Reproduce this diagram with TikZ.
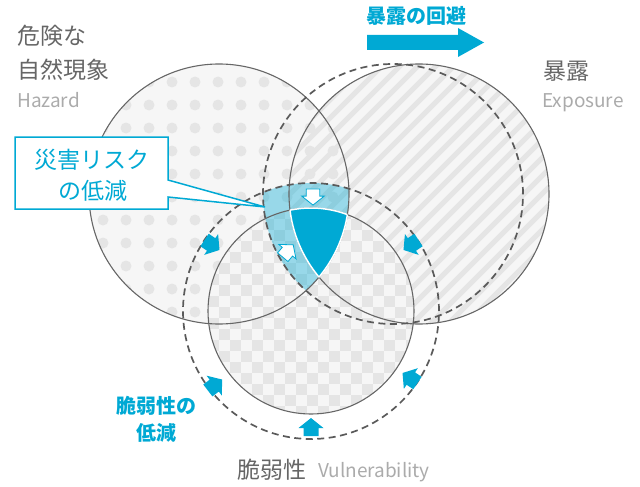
\documentclass[tikz,border=0pt]{standalone}
\usepackage{fontspec}
\setmainfont{Noto Sans CJK JP}
\definecolor{cy}{HTML}{00A9D4}
\definecolor{bgc}{HTML}{F6F6F6}
\definecolor{pat}{HTML}{E5E5E5}
\definecolor{ln}{HTML}{666666}
\definecolor{dsh}{HTML}{5A5A5A}
\definecolor{lbl}{HTML}{666666}
\definecolor{lbllight}{HTML}{ABABAB}
\tikzset{
  outline/.style={draw=ln, line width=1.1pt},
  dashring/.style={draw=dsh, line width=1.7pt, dash pattern=on 7pt off 4.5pt},
  whiteedge/.style={draw=white, line width=1.5pt},
  cyarrowstyle/.style={fill=cy},
  wharrowstyle/.style={fill=white, draw=cy, line width=0.8pt, line join=miter},
  jplabel/.style={text=lbl, font=\fontsize{23}{27}\selectfont, inner sep=0pt},
  enlabel/.style={text=lbllight, font=\fontsize{19}{22}\selectfont, inner sep=0pt},
  cylabel/.style={text=cy, font=\bfseries\fontsize{20}{24}\selectfont, inner sep=0pt},
  calltext/.style={text=cy, font=\fontsize{23}{27}\selectfont, inner sep=0pt}
}
\newcommand\blockarrow[4]{%
  \begin{scope}[shift={(#1,#2)}, rotate=#3]
    \path[#4] (9,0) -- (-1,12.5) -- (-1,7.5) -- (-9,7.5) -- (-9,-7.5) -- (-1,-7.5) -- (-1,-12.5) -- cycle;
  \end{scope}}
\begin{document}
\begin{tikzpicture}[x=1pt,y=-1pt]
\useasboundingbox (0,0) rectangle (640,487);
\coordinate (H) at (219,194);
\coordinate (E) at (419,194);
\coordinate (Ed) at (393,194);
\coordinate (V) at (311,311);
% base fills
\fill[bgc] (H) circle[radius=130pt];
\fill[bgc] (E) circle[radius=130pt];
% dots (hazard)
\begin{scope}
  \clip (H) circle[radius=130pt];
  \foreach \i in {3,...,15}{\foreach \j in {2,...,14}{
    \fill[pat] (11+23*\i,13+23*\j) circle[radius=5.5pt];}}
\end{scope}
% stripes (exposure)
\begin{scope}
  \clip (E) circle[radius=130pt];
  \foreach \c in {340,358,...,890}{
    \draw[pat, line width=5pt] (\c-400,400) -- (\c,0);}
\end{scope}
% checker (vulnerability)
\fill[bgc] (V) circle[radius=103pt];
\begin{scope}
  \clip (V) circle[radius=103pt];
  \foreach \i in {0,...,20}{
    \pgfmathtruncatemacro\off{mod(\i,2)}
    \foreach \j in {0,2,...,20}{
      \fill[pat] (197+11*\i,197+11*\j+11*\off) rectangle ++(11,11);}}
\end{scope}
% light cyan region
\begin{scope}
  \clip (H) circle[radius=130pt];
  \clip (Ed) circle[radius=130pt];
  \fill[cy, opacity=0.38] (V) circle[radius=128pt];
\end{scope}
% outlines
\path[outline] (H) circle[radius=130pt];
\path[outline] (E) circle[radius=130pt];
\path[outline] (V) circle[radius=103pt];
\path[dashring] (Ed) circle[radius=130pt];
\path[dashring] (V) circle[radius=128pt];
% dark region
\begin{scope}
  \clip (H) circle[radius=130pt];
  \clip (E) circle[radius=130pt];
  \fill[cy] (V) circle[radius=103pt];
\end{scope}
\begin{scope}
  \clip (E) circle[radius=130pt]; \clip (V) circle[radius=103pt];
  \path[whiteedge] (H) circle[radius=130pt];
\end{scope}
\begin{scope}
  \clip (H) circle[radius=130pt]; \clip (V) circle[radius=103pt];
  \path[whiteedge] (E) circle[radius=130pt];
\end{scope}
\begin{scope}
  \clip (H) circle[radius=130pt]; \clip (E) circle[radius=130pt];
  \path[whiteedge] (V) circle[radius=103pt];
\end{scope}
% cyan arrows (vulnerability reduction)
\blockarrow{212}{245}{-33.7}{cyarrowstyle}
\blockarrow{411}{245}{-146.6}{cyarrowstyle}
\blockarrow{215}{385}{37.6}{cyarrowstyle}
\blockarrow{410}{378}{146}{cyarrowstyle}
\blockarrow{311}{427}{90}{cyarrowstyle}
% white arrows
\begin{scope}[shift={(313,197)}, rotate=-90, scale=0.9]
  \path[wharrowstyle] (9,0) -- (-1,12.5) -- (-1,7.5) -- (-9,7.5) -- (-9,-7.5) -- (-1,-7.5) -- (-1,-12.5) -- cycle;
\end{scope}
\begin{scope}[shift={(288,251)}, rotate=50, scale=0.9]
  \path[wharrowstyle] (9,0) -- (-1,12.5) -- (-1,7.5) -- (-9,7.5) -- (-9,-7.5) -- (-1,-7.5) -- (-1,-12.5) -- cycle;
\end{scope}
% top arrow
\fill[cy] (367,35) -- (458,35) -- (458,28) -- (484,42.5) -- (458,57) -- (458,50) -- (367,50) -- cycle;
\node[cylabel, anchor=base] (avoid) at (416,23.5) {暴露の回避};
% callout
\draw[cy, line width=1.5pt, fill=white, line join=miter] (15,137) -- (168,137) -- (168,180) -- (265,207) -- (168,197) -- (168,209) -- (15,209) -- cycle;
\node[calltext, anchor=base] (risk1) at (92,168.5) {災害リスク};
\node[calltext, anchor=base] (risk2) at (93,199.5) {の低減};
% labels
\node[jplabel, anchor=base west] (haz1) at (17,45) {危険な};
\node[jplabel, anchor=base west] (haz2) at (17,78) {自然現象};
\node[enlabel, anchor=base west] (haz3) at (17,107.5) {Hazard};
\node[jplabel, anchor=base west] (exp1) at (543,80) {暴露};
\node[enlabel, anchor=base west] (exp2) at (542,107.5) {Exposure};
\node[cylabel, anchor=base] (vr1) at (156,413) {脆弱性の};
\node[cylabel, anchor=base] (vr2) at (156,440) {低減};
\node[jplabel, anchor=base west] (vul1) at (237,478) {脆弱性};
\node[enlabel, anchor=base west] (vul2) at (318,477) {Vulnerability};
\end{tikzpicture}
\end{document}
